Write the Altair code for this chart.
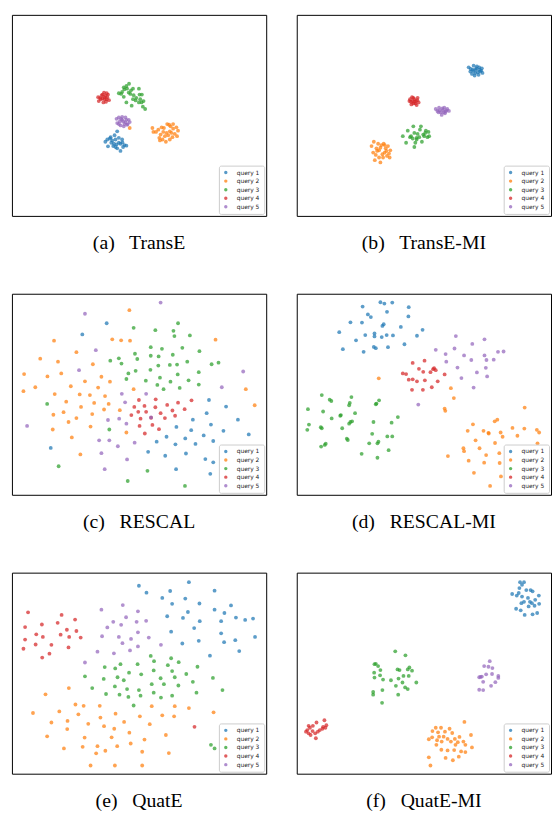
import altair as alt
import pandas as pd

QUERIES = ["query 1", "query 2", "query 3", "query 4", "query 5"]
COLORS = ["#1f77b4", "#ff7f0e", "#2ca02c", "#d62728", "#9467bd"]

# ---- (a) TransE : points read in picture coordinates (x right, y down)
TRANSE_Q1 = [(330,360),(322,372),(310,378),(300,385),(294,392),(302,406),(315,388),(325,385),(335,380),(345,385),(340,398),(352,402),(358,404),(348,408),(340,420),(330,412),(320,398),(312,395),(318,405),(335,395),(308,382),(328,400),(346,394),(325,408)]
TRANSE_Q2 = [(437,350),(440,362),(455,355),(462,370),(458,380),(468,385),(478,392),(490,385),(498,378),(505,368),(515,358),(510,348),(500,338),(488,340),(482,338),(472,350),(470,362),(480,365),(490,360),(485,372),(495,365),(465,348),(475,375),(500,352),(448,362),(460,388),(512,375),(492,345),(368,350)]
TRANSE_Q3 = [(335,244),(345,240),(350,226),(358,222),(366,215),(372,235),(378,230),(388,258),(396,230),(405,248),(410,268),(398,248),(370,246),(358,272),(350,255),(374,282),(396,272),(415,292),(408,285),(380,250),(365,242),(342,246),(352,232),(386,266),(400,262),(360,230),(378,262),(404,272)]
TRANSE_Q4 = [(272,256),(274,268),(283,250),(290,242),(298,244),(300,256),(292,262),(285,260),(296,270),(305,265),(288,272),(280,262),(294,252),(302,248),(286,248),(278,258),(298,262),(291,256)]
TRANSE_Q5 = [(328,322),(335,318),(345,316),(355,318),(365,325),(368,332),(360,340),(350,345),(340,342),(330,335),(338,330),(348,330),(355,332),(342,322),(352,338),(345,325),(335,338),(358,325),(362,338)]

# ---- (b) TransE-MI
TRANSEMI_Q1 = [(530,165),(535,178),(540,185),(545,160),(548,190),(552,172),(558,180),(562,165),(568,175),(572,182),(570,168),(555,162),(542,172),(550,182),(560,188),(536,170),(565,178),(545,176),(553,168),(563,172)]
TRANSEMI_Q2 = [(235,405),(240,425),(242,392),(245,448),(250,412),(255,398),(258,418),(262,455),(265,402),(268,430),(272,398),(275,425),(278,412),(282,435),(285,405),(288,428),(292,418),(290,440),(248,432),(258,440),(270,440),(262,410),(280,420),(252,420),(275,402)]
TRANSEMI_Q3 = [(330,375),(345,358),(355,375),(362,345),(365,365),(368,395),(372,385),(375,368),(382,355),(385,345),(388,392),(395,375),(400,358),(405,378),(410,375),(408,362),(365,408),(352,378),(340,395),(380,378),(392,370),(372,380),(360,382),(398,365)]
TRANSEMI_Q4 = [(352,262),(355,270),(358,256),(362,275),(365,262),(370,268),(375,258),(378,272),(372,280),(360,268),(368,275),(356,278),(374,265),(362,258),(366,270),(350,268)]
TRANSEMI_Q5 = [(430,292),(435,298),(440,288),(445,302),(448,310),(452,295),(456,288),(460,300),(465,292),(470,298),(458,305),(442,296),(450,290),(462,296),(438,302),(454,302)]

# ---- (c) RESCAL
RESCAL_Q1 = [(298,95),(224,129),(609,329),(661,349),(602,369),(560,389),(697,389),(615,404),(510,411),(555,421),(653,423),(730,434),(480,441),(593,437),(537,446),(450,456),(622,454),(507,464),(568,463),(128,475),(656,475),(424,487),(476,499),(539,492),(598,509),(622,519),(509,540),(613,554)]
RESCAL_Q2 = [(367,55),(138,148),(315,144),(342,147),(369,148),(629,145),(206,183),(96,203),(150,212),(256,220),(47,250),(160,248),(118,257),(282,258),(308,273),(232,272),(81,290),(189,287),(272,291),(45,302),(380,296),(721,296),(140,311),(216,312),(247,314),(293,317),(175,334),(260,338),(304,341),(220,350),(167,366),(748,345),(290,358),(338,360),(136,374),(254,372),(206,384),(182,396),(249,410),(134,419),(358,428),(192,443),(218,495)]
RESCAL_Q3 = [(380,109),(515,95),(446,116),(501,118),(504,134),(551,132),(432,168),(466,173),(528,170),(580,180),(384,188),(432,194),(456,196),(499,191),(335,202),(309,209),(391,204),(343,218),(490,222),(512,221),(543,212),(617,220),(638,215),(455,224),(431,237),(386,240),(364,248),(578,244),(514,251),(460,261),(358,265),(417,270),(492,273),(547,269),(452,283),(578,282),(471,296),(520,292),(117,341),(306,419),(152,531),(422,545),(362,576),(536,591)]
RESCAL_Q4 = [(396,329),(447,327),(515,337),(556,330),(413,347),(382,350),(446,351),(482,344),(535,357),(394,365),(418,365),(462,369),(498,361),(373,375),(401,386),(433,383),(475,384),(506,377),(398,408),(437,405),(457,418),(414,431)]
RESCAL_Q5 = [(462,32),(232,66),(265,177),(214,238),(713,242),(648,290),(344,310),(418,310),(354,336),(433,382),(302,390),(336,386),(358,401),(56,408),(275,452),(306,452),(383,459),(332,470),(282,491),(360,510),(292,540)]

# ---- (d) RESCAL-MI
RESCALMI_Q1 = [(262,31),(274,35),(298,32),(208,44),(348,46),(282,60),(224,68),(233,76),(347,74),(171,92),(206,93),(272,98),(268,103),(324,106),(390,115),(137,122),(244,126),(216,131),(244,135),(266,137),(281,131),(300,132),(373,133),(188,147),(335,159),(242,167),(248,171),(285,168),(148,174),(211,182)]
RESCALMI_Q2 = [(257,263),(476,293),(485,323),(457,355),(459,362),(700,352),(617,389),(609,394),(543,403),(527,423),(575,423),(590,429),(591,431),(627,428),(663,414),(699,416),(737,420),(744,428),(678,438),(633,441),(551,452),(610,460),(514,476),(563,476),(739,461),(516,485),(583,497),(623,491),(467,500),(530,514),(577,520),(624,521),(546,551),(628,562),(595,591),(650,490),(658,520),(700,500),(720,520),(690,545),(710,560)]
RESCALMI_Q3 = [(84,314),(174,320),(108,328),(113,332),(169,338),(258,330),(250,340),(248,342),(167,345),(42,357),(88,364),(185,369),(142,375),(140,377),(315,381),(114,385),(171,396),(167,401),(176,394),(241,396),(45,404),(296,398),(81,412),(84,415),(146,415),(40,420),(237,432),(283,440),(298,440),(160,447),(163,451),(256,456),(228,461),(253,461),(96,462),(82,471),(93,466),(287,482),(205,493),(253,505)]
RESCALMI_Q4 = [(396,209),(360,216),(379,234),(425,232),(430,238),(422,235),(392,243),(414,244),(330,248),(340,250),(457,251),(360,266),(348,267),(373,272),(397,269),(436,272),(418,290),(358,298),(391,298)]
RESCALMI_Q5 = [(491,134),(578,144),(541,158),(487,172),(430,176),(460,189),(516,193),(578,193),(619,182),(636,181),(538,207),(584,207),(606,206),(462,212),(496,230),(582,231),(555,245),(586,257),(508,262),(545,291),(377,343)]

# ---- (e) QuatE
QUATE_Q1 = [(396,45),(548,34),(419,66),(491,61),(626,60),(467,82),(537,84),(497,100),(580,99),(676,105),(545,125),(626,118),(656,128),(482,138),(530,143),(581,153),(691,142),(719,149),(743,145),(646,153),(564,174),(494,185),(646,190),(749,201),(578,213),(528,221),(655,217),(689,211),(701,244),(612,258)]
QUATE_Q2 = [(183,357),(112,376),(74,433),(203,407),(228,411),(277,411),(154,428),(212,437),(325,435),(435,412),(505,412),(548,418),(623,431),(130,462),(179,457),(242,466),(279,447),(399,443),(467,440),(503,443),(351,460),(429,467),(178,482),(290,473),(321,481),(117,504),(231,508),(313,507),(367,493),(413,514),(478,500),(168,541),(225,536),(270,534),(330,534),(371,526),(266,556),(294,548),(406,551),(487,555),(249,593),(323,593),(406,593)]
QUATE_Q3 = [(432,259),(494,266),(442,275),(517,278),(392,284),(484,287),(292,293),(324,297),(340,284),(574,292),(441,303),(366,310),(497,305),(403,315),(540,314),(232,321),(289,329),(331,324),(462,327),(505,324),(621,326),(350,333),(435,345),(472,345),(560,338),(254,357),(323,352),(360,360),(396,363),(516,349),(650,363),(296,375),(337,377),(364,384),(401,380),(441,371),(463,386),(497,380),(571,371),(380,410),(615,530),(626,541)]
QUATE_Q4 = [(59,126),(161,134),(101,163),(149,158),(202,148),(50,171),(177,179),(206,183),(84,193),(104,201),(158,194),(184,201),(219,203),(50,209),(82,224),(130,225),(182,233),(45,237),(124,252),(102,264),(565,475)]
QUATE_Q5 = [(347,104),(282,118),(393,123),(357,141),(318,155),(389,155),(418,152),(342,164),(300,172),(393,187),(284,199),(335,201),(426,203),(372,207),(346,220),(463,225),(393,230),(369,242),(270,246),(320,251),(232,279)]

# ---- (f) QuatE-MI
QUATEMI_Q1 = [(686,34),(692,42),(698,34),(684,52),(662,70),(682,67),(705,58),(718,58),(724,62),(743,75),(692,78),(710,82),(732,88),(722,98),(690,98),(744,100),(712,108),(730,106),(674,115),(688,120),(700,134),(724,132),(738,128),(676,75),(698,94),(716,94)]
QUATEMI_Q2 = [(517,460),(430,478),(446,478),(472,481),(420,488),(437,492),(458,490),(480,494),(502,506),(537,500),(409,513),(419,507),(434,516),(454,505),(466,512),(488,512),(497,522),(514,520),(520,530),(432,530),(447,545),(466,547),(486,546),(507,550),(520,552),(540,538),(409,568),(460,570),(482,577),(500,566),(414,593),(476,520),(490,530),(440,505),(448,520)]
QUATEMI_Q3 = [(307,245),(338,257),(248,283),(244,284),(262,302),(314,300),(350,294),(345,300),(243,310),(261,318),(358,304),(294,333),(332,320),(348,320),(244,325),(270,331),(317,328),(329,340),(371,340),(309,350),(337,355),(345,360),(240,369),(268,363),(240,377),(316,377),(267,402),(255,290),(320,302)]
QUATEMI_Q4 = [(92,455),(68,462),(44,472),(57,472),(88,475),(98,470),(95,478),(86,481),(40,485),(56,488),(64,495),(72,490),(44,495),(50,500),(36,490),(48,478),(66,510),(78,485)]
QUATEMI_Q5 = [(594,275),(577,290),(590,292),(602,296),(583,315),(601,314),(566,323),(620,320),(562,324),(620,326),(574,338),(611,339),(598,350),(562,362),(574,363),(570,322)]

CAPTIONS = ["(a)\u2002 TransE", "(b)\u2002 TransE-MI", "(c)\u2002 RESCAL",
            "(d)\u2002 RESCAL-MI", "(e)\u2002 QuatE", "(f)\u2002 QuatE-MI"]

PANEL_W, PANEL_H = 258, 204


def panel(groups, caption, xdom):
    rows = []
    for q, pts in zip(QUERIES, groups):
        for x, y in pts:
            rows.append({"x": x, "y": y, "query": q})
    df = pd.DataFrame(rows)
    return alt.Chart(df).mark_circle(size=15, opacity=0.72).encode(
        x=alt.X("x:Q", scale=alt.Scale(domain=xdom, nice=False, zero=False), axis=None),
        y=alt.Y("y:Q", scale=alt.Scale(domain=[5, 618], nice=False, zero=False, reverse=True), axis=None),
        color=alt.Color("query:N", scale=alt.Scale(domain=QUERIES, range=COLORS),
                        legend=alt.Legend(title=None, orient="bottom-right", offset=2)),
    ).properties(
        width=PANEL_W, height=PANEL_H,
        title=alt.TitleParams(caption, orient="bottom", anchor="middle", offset=34,
                              baseline="alphabetic", font="Liberation Serif",
                              fontSize=20, fontWeight="normal", color="black"),
    )


LEFT = [10, 783]
RIGHT = [8, 780]

a = panel([TRANSE_Q1, TRANSE_Q2, TRANSE_Q3, TRANSE_Q4, TRANSE_Q5], CAPTIONS[0], LEFT)
b = panel([TRANSEMI_Q1, TRANSEMI_Q2, TRANSEMI_Q3, TRANSEMI_Q4, TRANSEMI_Q5], CAPTIONS[1], RIGHT)
c = panel([RESCAL_Q1, RESCAL_Q2, RESCAL_Q3, RESCAL_Q4, RESCAL_Q5], CAPTIONS[2], LEFT)
d = panel([RESCALMI_Q1, RESCALMI_Q2, RESCALMI_Q3, RESCALMI_Q4, RESCALMI_Q5], CAPTIONS[3], RIGHT)
e = panel([QUATE_Q1, QUATE_Q2, QUATE_Q3, QUATE_Q4, QUATE_Q5], CAPTIONS[4], LEFT)
f = panel([QUATEMI_Q1, QUATEMI_Q2, QUATEMI_Q3, QUATEMI_Q4, QUATEMI_Q5], CAPTIONS[5], RIGHT)

chart = alt.concat(
    a, b, c, d, e, f, columns=2, spacing={"row": 79, "column": 31}, bounds="flush"
).resolve_scale(
    color="independent"
).properties(
    padding={"left": 3, "top": 0, "right": 0, "bottom": 0}
).configure_view(
    stroke="black", strokeWidth=1
).configure_legend(
    fillColor="white", strokeColor="#cccccc", padding=4, cornerRadius=2,
    labelFont="DejaVu Sans", labelFontSize=6, labelColor="#222222", labelOffset=8,
    symbolType="circle", symbolSize=12, symbolOpacity=0.75, symbolStrokeWidth=0,
    rowPadding=2.7, labelLimit=60,
).configure_title(
    font="Liberation Serif"
)

chart.save("out.html", embed_options={"renderer": "svg", "actions": False})
